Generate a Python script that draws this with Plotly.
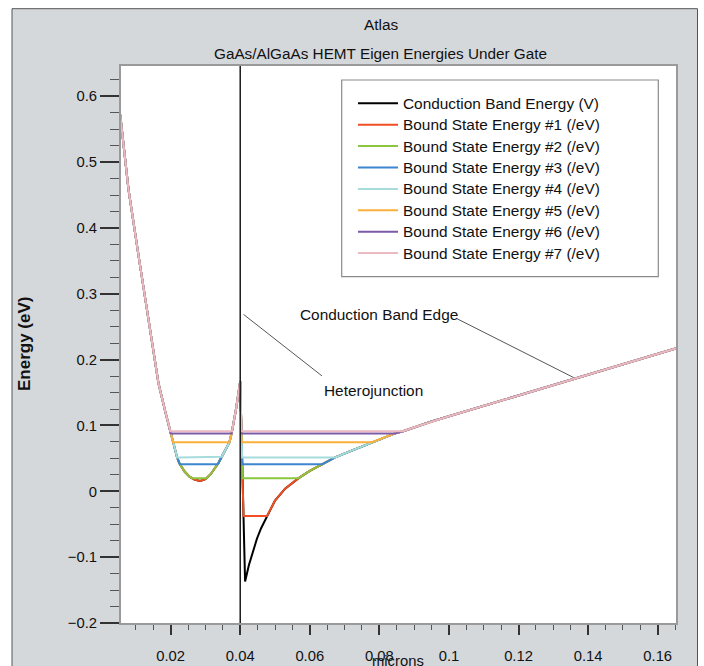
import plotly.graph_objects as go

# ---------------- data ----------------
# Conduction band edge (microns, eV)
x_cb = [0.0055, 0.0079, 0.0108, 0.0137, 0.0165, 0.0185, 0.0199, 0.0207, 0.0218, 0.0225,
        0.0240, 0.0255, 0.0270, 0.0285, 0.0300, 0.0315, 0.0337, 0.0347, 0.0369, 0.0376,
        0.0388, 0.0400,
        0.0414, 0.0425, 0.0436, 0.0448, 0.0460, 0.0477, 0.0500, 0.0529, 0.0568, 0.0600,
        0.0635, 0.0673, 0.0720, 0.0778, 0.0845, 0.0868, 0.0905, 0.0950, 0.1000, 0.1200,
        0.1400, 0.1655]
e_cb = [0.572, 0.458, 0.357, 0.255, 0.164, 0.120, 0.090, 0.0745, 0.0526, 0.0426,
        0.030, 0.022, 0.0175, 0.0158, 0.0185, 0.026, 0.0426, 0.0526, 0.0745, 0.090,
        0.125, 0.167,
        -0.137, -0.112, -0.091, -0.072, -0.056, -0.0376, -0.0140, 0.0040, 0.0200, 0.0310,
        0.0410, 0.0515, 0.0618, 0.0745, 0.0880, 0.0912, 0.0980, 0.1060, 0.1140, 0.1455,
        0.1770, 0.2175]

# Bound state eigen energies (eV)
bound_energies = [-0.0376, 0.0200, 0.0410, 0.0515, 0.0745, 0.0880, 0.0912]

series_names = ["Conduction Band Energy (V)",
                "Bound State Energy #1 (/eV)",
                "Bound State Energy #2 (/eV)",
                "Bound State Energy #3 (/eV)",
                "Bound State Energy #4 (/eV)",
                "Bound State Energy #5 (/eV)",
                "Bound State Energy #6 (/eV)",
                "Bound State Energy #7 (/eV)"]

junction_x = 0.04

x_tickvals = [0.02, 0.04, 0.06, 0.08, 0.10, 0.12, 0.14, 0.16]
x_ticktext = ["0.02", "0.04", "0.06", "0.08", "0.1", "0.12", "0.14", "0.16"]
y_tickvals = [-0.2, -0.1, 0.0, 0.1, 0.2, 0.3, 0.4, 0.5, 0.6]
y_ticktext = ["\u22120.2", "\u22120.1", "0", "0.1", "0.2", "0.3", "0.4", "0.5", "0.6"]

# annotations (label, text anchor, leader line start -> end) in data units
annot_labels = ["Heterojunction", "Conduction Band Edge"]
annot_x = [0.0782, 0.0798]
annot_y = [0.153, 0.2687]
lead_x0 = [0.0635, 0.1023]
lead_y0 = [0.1753, 0.2622]
lead_x1 = [0.04095, 0.1358]
lead_y1 = [0.2687, 0.1729]

# ---------------- styles ----------------
colors = ["#000000", "#f04e23", "#8cc63f", "#3d85d0", "#a6dcdc",
          "#fbb03b", "#7b5aa8", "#ebb9c1"]
FONT = "Liberation Sans, Arial, sans-serif"
W, H = 704, 666
L, R, T, B = 121, 28, 66, 43
PW, PH = W - L - R, H - T - B


def px_x(px):
    return (px - L) / PW


def px_y(py):
    return (H - B - py) / PH


def floor_at(xs, ys, level):
    """Bound state curve: max(conduction band, level) with exact crossings."""
    ox, oy = [], []
    for i in range(len(xs)):
        if i > 0:
            y0, y1 = ys[i - 1], ys[i]
            if (y0 - level) * (y1 - level) < 0:
                t = (level - y0) / (y1 - y0)
                ox.append(xs[i - 1] + t * (xs[i] - xs[i - 1]))
                oy.append(level)
        ox.append(xs[i])
        oy.append(max(ys[i], level))
    return ox, oy


fig = go.Figure()
legend_span = '<span style="font-size:15.4px">{}</span>'

fig.add_trace(go.Scatter(x=x_cb, y=e_cb, mode="lines",
                         name=legend_span.format(series_names[0]),
                         line=dict(color=colors[0], width=2)))
for i, E in enumerate(bound_energies):
    bx, by = floor_at(x_cb, e_cb, E)
    fig.add_trace(go.Scatter(x=bx, y=by, mode="lines",
                             name=legend_span.format(series_names[i + 1]),
                             line=dict(color=colors[i + 1], width=2)))

shapes = [
    # gray frame of the whole graphic
    dict(type="rect", xref="paper", yref="paper",
         x0=px_x(12), x1=px_x(697.5), y0=px_y(670), y1=px_y(8.7),
         fillcolor="#d5d8db", line=dict(color="#555555", width=1), layer="below"),
    # white plotting area
    dict(type="rect", xref="paper", yref="paper", x0=0, x1=1, y0=0, y1=1,
         fillcolor="white", line=dict(width=0), layer="below"),
    # heterojunction marker
    dict(type="line", xref="x", yref="paper", x0=junction_x, x1=junction_x, y0=0, y1=1,
         line=dict(color="#1a1a1a", width=1.5), layer="above"),
    # legend frame
    dict(type="rect", xref="paper", yref="paper",
         x0=px_x(341.7), x1=px_x(658.3), y0=px_y(276.7), y1=px_y(80),
         line=dict(color="#8a8a8a", width=1.2), layer="above"),
]
for i in range(len(annot_labels)):
    shapes.append(dict(type="line", xref="x", yref="y",
                       x0=lead_x0[i], y0=lead_y0[i], x1=lead_x1[i], y1=lead_y1[i],
                       line=dict(color="#555555", width=1)))

annotations = [
    dict(text="Atlas", xref="paper", yref="paper", x=px_x(381), y=px_y(25),
         showarrow=False, font=dict(family=FONT, size=15.4, color="#111111"),
         xanchor="center", yanchor="middle"),
    dict(text="GaAs/AlGaAs HEMT Eigen Energies Under Gate", xref="paper", yref="paper",
         x=px_x(380), y=px_y(54), showarrow=False,
         font=dict(family=FONT, size=15.3, color="#111111"),
         xanchor="center", yanchor="middle"),
    dict(text="Energy (eV)", xref="paper", yref="paper", x=px_x(24), y=px_y(344),
         showarrow=False, textangle=-90,
         font=dict(family=FONT, size=17, color="#111111", weight="bold"),
         xanchor="center", yanchor="middle"),
    dict(text="microns", xref="paper", yref="paper", x=px_x(398), y=px_y(661),
         showarrow=False, font=dict(family=FONT, size=14.8, color="#111111"),
         xanchor="center", yanchor="middle"),
]
for i in range(len(annot_labels)):
    annotations.append(dict(text=annot_labels[i], x=annot_x[i], y=annot_y[i],
                            xref="x", yref="y", showarrow=False,
                            font=dict(family=FONT, size=15.4, color="#111111"),
                            xanchor="center", yanchor="middle"))

fig.update_layout(
    width=W, height=H,
    margin=dict(l=L, r=R, t=T, b=B, pad=0, autoexpand=False),
    paper_bgcolor="white",
    plot_bgcolor="white",
    font=dict(family=FONT, size=14.8, color="#111111"),
    shapes=shapes,
    annotations=annotations,
    showlegend=True,
    legend=dict(x=px_x(353), y=px_y(87.6), xanchor="left", yanchor="top",
                bgcolor="rgba(0,0,0,0)", borderwidth=0,
                font=dict(family=FONT, size=14.15, color="#111111"),
                itemwidth=40),
    xaxis=dict(range=[0.00573, 0.16526], tickvals=x_tickvals, ticktext=x_ticktext,
               automargin=False,
               ticks="outside", ticklen=10, tickwidth=1.5, tickcolor="#333333",
               showgrid=False, zeroline=False, showline=True, mirror=True,
               linecolor="#9a9a9a", linewidth=2,
               tickfont=dict(family=FONT, size=14.8, color="#111111"),
               ticklabelstandoff=8,
               minor=dict(dtick=0.005, tick0=0, ticks="outside", ticklen=5,
                          tickwidth=1.2, tickcolor="#555555", showgrid=False)),
    yaxis=dict(range=[-0.2, 0.646], tickvals=y_tickvals, ticktext=y_ticktext,
               automargin=False,
               ticks="outside", ticklen=19, tickwidth=1.5, tickcolor="#333333",
               showgrid=False, zeroline=False, showline=True, mirror=True,
               linecolor="#9a9a9a", linewidth=2,
               tickfont=dict(family=FONT, size=14.8, color="#111111"),
               minor=dict(dtick=0.025, tick0=0, ticks="outside", ticklen=9,
                          tickwidth=1.2, tickcolor="#555555", showgrid=False)),
)

fig.write_html("out.html")
